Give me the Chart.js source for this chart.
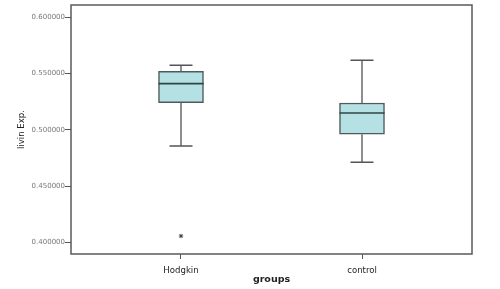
<!DOCTYPE html>
<html>
<head>
<meta charset="utf-8">
<script src="https://cdn.jsdelivr.net/npm/chart.js@4.4.1/dist/chart.umd.min.js"></script>
<style>
html,body{margin:0;padding:0;background:#fff;}
#wrap{width:500px;height:289px;position:relative;}
</style>
</head>
<body>
<div id="wrap"><canvas id="c" width="500" height="289"></canvas></div>
<script>
// ---- data ----
const categories = ['Hodgkin', 'control'];
const whiskerLow = [0.4856, 0.4711];
const q1 = [0.5241, 0.4960];
const median = [0.5410, 0.5149];
const q3 = [0.5520, 0.5238];
const whiskerHigh = [0.5573, 0.5618];
const outlierGroup = [1];
const outlierValue = [0.4056];
const yTicks = [0.40, 0.45, 0.50, 0.55, 0.60];

const catPos = categories.map((c, i) => i + 1);
const NARROW = "'Liberation Sans Narrow', 'DejaVu Sans Condensed', 'Arial Narrow', 'Liberation Sans', sans-serif";

const boxPlugin = {
  id: 'boxExtras',
  beforeDatasetsDraw(chart) {
    const ctx = chart.ctx, xs = chart.scales.x, ys = chart.scales.y;
    ctx.save();
    categories.forEach((c, i) => {
      const x = xs.getPixelForValue(catPos[i]);
      const capHalf = 11.5;
      ctx.strokeStyle = '#6a6a6a';
      ctx.lineWidth = 1.5;
      ctx.beginPath();
      ctx.moveTo(x, ys.getPixelForValue(q3[i]));
      ctx.lineTo(x, ys.getPixelForValue(whiskerHigh[i]));
      ctx.moveTo(x, ys.getPixelForValue(q1[i]));
      ctx.lineTo(x, ys.getPixelForValue(whiskerLow[i]));
      ctx.stroke();
      ctx.strokeStyle = '#555';
      ctx.beginPath();
      const yh = ys.getPixelForValue(whiskerHigh[i]);
      const yl = ys.getPixelForValue(whiskerLow[i]);
      ctx.moveTo(x - capHalf, yh); ctx.lineTo(x + capHalf, yh);
      ctx.moveTo(x - capHalf, yl); ctx.lineTo(x + capHalf, yl);
      ctx.stroke();
    });
    ctx.restore();
  },
  afterDatasetsDraw(chart) {
    const ctx = chart.ctx, xs = chart.scales.x, ys = chart.scales.y;
    ctx.save();
    categories.forEach((c, i) => {
      const x = xs.getPixelForValue(catPos[i]);
      const half = 22.5;
      const ym = ys.getPixelForValue(median[i]);
      ctx.strokeStyle = '#2f4444';
      ctx.lineWidth = 1.6;
      ctx.beginPath();
      ctx.moveTo(x - half, ym); ctx.lineTo(x + half, ym);
      ctx.stroke();
    });
    // plot frame
    const a = chart.chartArea;
    ctx.strokeStyle = '#5a5a5a';
    ctx.lineWidth = 1.5;
    ctx.strokeRect(a.left, a.top, a.right - a.left, a.bottom - a.top);
    ctx.restore();
  }
};

new Chart(document.getElementById('c'), {
  type: 'bar',
  data: {
    datasets: [
      {
        type: 'bar',
        data: catPos.map((p, i) => ({x: p, y: [q1[i], q3[i]]})),
        backgroundColor: '#b6e1e4',
        borderColor: '#4f5a5a',
        borderWidth: 1.5,
        borderSkipped: false,
        barThickness: 45
      },
      {
        type: 'scatter',
        data: outlierGroup.map((g, i) => ({x: g, y: outlierValue[i]})),
        pointStyle: 'star',
        radius: 2.2,
        borderColor: '#444',
        borderWidth: 1,
        backgroundColor: 'rgba(0,0,0,0)'
      }
    ]
  },
  options: {
    responsive: false,
    animation: false,
    layout: {padding: {top: 5, right: 28, left: 0, bottom: 0}},
    plugins: {legend: {display: false}, tooltip: {enabled: false}},
    scales: {
      x: {
        type: 'linear',
        offset: false,
        min: 0.3923,
        max: 2.6077,
        afterBuildTicks(s) { s.ticks = catPos.map(v => ({value: v})); },
        afterFit(s) { s.height = 35; },
        grid: {display: true, offset: false, drawOnChartArea: false, drawTicks: true, tickLength: 5, color: '#555'},
        border: {display: false},
        ticks: {
          padding: 6,
          color: '#222',
          font: {family: NARROW, size: 9.5},
          maxRotation: 0,
          callback: (v) => categories[Math.round(v) - 1] || ''
        },
        title: {
          display: true,
          text: 'groups',
          color: '#222',
          font: {family: 'DejaVu Sans', size: 9.5, weight: 'bold'},
          padding: {top: 0, bottom: 4}
        }
      },
      y: {
        min: 0.3896,
        max: 0.6109,
        afterBuildTicks(s) { s.ticks = yTicks.map(v => ({value: v})); },
        afterFit(s) { s.width = 71; },
        grid: {display: true, drawOnChartArea: false, drawTicks: true, tickLength: 6, color: '#555'},
        border: {display: false},
        ticks: {
          padding: 0,
          color: '#777',
          font: {family: 'DejaVu Sans', size: 7},
          callback: (v) => Number(v).toFixed(6)
        },
        title: {
          display: true,
          text: 'livin Exp.',
          color: '#222',
          font: {family: NARROW, size: 9.5},
          padding: {top: 16, bottom: 0}
        }
      }
    }
  },
  plugins: [boxPlugin]
});
</script>
</body>
</html>
